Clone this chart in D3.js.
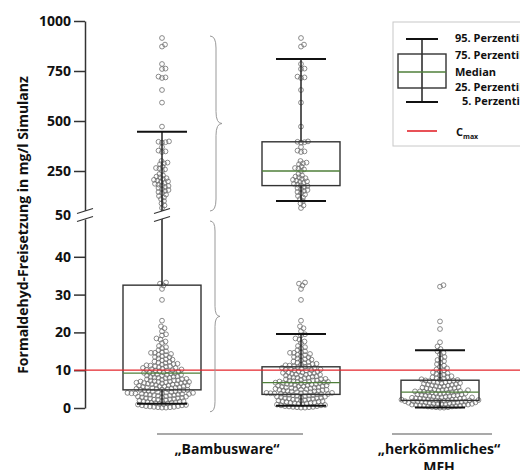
<!DOCTYPE html>
<html>
<head>
<meta charset="utf-8">
<script src="https://cdn.jsdelivr.net/npm/d3@7"></script>
<style>
  body { margin: 0; background: #fff; }
  text { font-family: "Open Sans", Lato, sans-serif; font-weight: bold; fill: #111; }
</style>
</head>
<body>
<svg id="chart" width="520" height="470"></svg>
<script>
const columns = ["alle", "getrennt", "mfh"];
const upperTicks = [250, 500, 750, 1000];
const lowerTicks = [0, 10, 20, 30, 40];
const breakValue = 50;
const cmax = 10;

// Perzentile: 5., 25., Median, 75., 95.
const statsAll = [1.1, 4.8, 9.2, 32.5, 446];
const statsHigh = [100, 177, 250, 396, 810];
const statsLow = [0.6, 3.6, 6.7, 10.9, 19.6];
const statsMfh = [0.1, 2.0, 4.2, 7.35, 15.3];

const legendLabels = ["95. Perzentil", "75. Perzentil", "Median", "25. Perzentil", "5. Perzentil"];

// Einzelwerte Bambusware, oberhalb 50 mg/l
const bambusHigh = [915, 882, 872, 785, 762, 760, 722, 718, 715, 655, 592, 472,
  398, 396, 394, 392, 370, 352, 348, 345, 300, 292, 288, 284, 272, 265, 262, 258,
  250, 235, 228, 222, 218, 214, 210, 206, 202, 198, 195, 190, 186, 182, 178, 175,
  170, 165, 160, 155, 150, 145, 140, 132, 125, 118, 110, 100, 88, 78, 65];

// Einzelwerte Bambusware, unterhalb 50 mg/l
const bambusLow = [33.2, 32.9, 32.4, 31.5, 28.6, 23.1, 21.6, 21.1, 20.3,
  19.5, 19.2, 18.4, 18.1, 17.6, 17.2, 16.4, 16.1, 15.8, 15.3, 15.0, 14.8, 14.6, 14.6,
  14.3, 14.1, 14.0, 13.7, 13.5, 13.4, 13.1, 12.9, 12.8, 12.6, 12.3, 12.2, 12.0, 11.9,
  11.7, 11.6, 11.5, 11.3, 11.2, 11.1, 11.0, 10.9,
  10.8, 10.6, 10.6, 10.4, 10.3, 10.1, 10.0, 9.9, 9.9, 9.7, 9.6, 9.4, 9.4, 9.3, 9.1,
  9.0, 8.9, 8.8, 8.8, 8.6, 8.5, 8.4, 8.3, 8.1, 8.0, 8.0, 7.9, 7.7, 7.6, 7.6, 7.5, 7.3,
  7.3, 7.2, 7.1, 7.0, 7.0, 6.9, 6.9, 6.8, 6.8, 6.7, 10.2, 9.2, 8.2,
  6.6, 6.6, 6.5, 6.4, 6.3, 6.3, 6.2, 6.1, 6.0, 6.0, 5.9, 5.8, 5.7, 5.7, 5.6, 5.5, 5.4,
  5.4, 5.3, 5.2, 5.1, 5.1, 5.0, 4.9, 4.8, 4.8, 4.7, 4.6, 4.5, 4.5, 4.4, 4.3, 4.2, 4.2,
  4.1, 4.0, 4.0, 3.9, 3.9, 3.8, 3.8, 3.7, 3.7, 3.6, 3.6,
  3.5, 3.4, 3.4, 3.3, 3.2, 3.1, 3.0, 3.0, 2.9, 2.8, 2.7, 2.6, 2.6, 2.5, 2.4, 2.3, 2.2,
  2.2, 2.1, 2.0, 1.9, 1.8, 1.8, 1.7, 1.6, 1.5, 1.4, 1.4, 1.3, 1.2, 1.1, 1.0, 0.9, 0.8,
  0.7, 0.7, 0.5, 0.5, 0.4, 0.3, 0.3, 0.2, 0.2, 0.1, 0.1];

// Einzelwerte herkoemmliches MFH
const mfhValues = [32.5, 32.1, 22.9, 20.9, 17.4, 16.3, 15.6,
  15.0, 14.6, 14.2, 13.5, 13.1, 12.7, 12.4, 12.0, 11.6, 11.2, 10.9, 10.5, 10.2, 9.9,
  9.7, 9.4, 9.2, 9.0, 8.8, 8.6, 8.4, 8.2, 8.1, 7.9, 7.8, 7.6, 7.5, 7.4,
  7.3, 7.2, 7.1, 7.0, 6.9, 6.8, 6.7, 6.6, 6.5, 6.4, 6.3, 6.2, 6.1, 6.0, 5.9, 5.8, 5.7,
  5.6, 5.5, 5.4, 5.3, 5.2, 5.1, 5.0, 4.9, 4.9, 4.8, 4.7, 4.6, 4.5, 4.4, 4.4, 4.3, 4.3, 4.2,
  4.1, 4.1, 4.0, 3.9, 3.9, 3.8, 3.7, 3.6, 3.6, 3.5, 3.4, 3.3, 3.3, 3.2, 3.1, 3.0, 3.0,
  2.9, 2.8, 2.8, 2.7, 2.6, 2.6, 2.5, 2.5, 2.4, 2.3, 2.3, 2.2, 2.2, 2.1, 2.1, 2.1, 2.0, 2.0,
  1.9, 1.9, 1.8, 1.8, 1.7, 1.7, 1.6, 1.6, 1.5, 1.5, 1.4, 1.4, 1.3, 1.3, 1.2, 1.2, 1.1,
  1.1, 1.0, 1.0, 0.9, 0.9, 0.8, 0.8, 0.7, 0.6, 0.6, 0.5, 0.4, 0.4, 0.3, 0.2, 0.2, 0.1, 0.1];

const svg = d3.select("#chart");
const axisX = 85;
const boxW = 78, capW = 50;
const medianColor = "#4f7f3a";
const redColor = "#e3262d";

const x = d3.scalePoint().domain(columns).range([162, 440]);
const yHigh = d3.scaleLinear().domain([breakValue, 1000]).range([211, 21]);
const yLow = d3.scaleLinear().domain([0, breakValue]).range([408, 219]);
const yAny = v => v > breakValue ? yHigh(v) : yLow(v);
const yBreak = (yHigh(breakValue) + yLow(breakValue)) / 2;

// simple beeswarm: push each point sideways until it does not collide
function swarm(values, yFn, dist) {
  const placed = [];
  values.map(v => ({v, y: yFn(v)}))
    .sort((a, b) => b.y - a.y)
    .forEach(p => {
      let dx = 0;
      for (let k = 0; k < 400; k++) {
        dx = (k % 2 ? 1 : -1) * Math.ceil(k / 2) * 0.5;
        const hit = placed.some(q => (q.dx - dx) ** 2 + (q.y - p.y) ** 2 < dist * dist);
        if (!hit) break;
      }
      p.dx = dx;
      placed.push(p);
    });
  return placed;
}

const dotsHigh = swarm(bambusHigh, yHigh, 3.4);
const dotsLow = swarm(bambusLow, yLow, 3.7);
const dotsMfh = swarm(mfhValues, yLow, 3.7);

function drawDots(dots, cx) {
  svg.append("g").selectAll("circle")
    .data(dots)
    .join("circle")
    .attr("cx", d => cx + d.dx)
    .attr("cy", d => d.y)
    .attr("r", 2.4)
    .attr("fill", "none")
    .attr("stroke", "#6e6e6e")
    .attr("stroke-width", 0.8);
}

drawDots(dotsHigh, x("alle"));
drawDots(dotsLow, x("alle"));
drawDots(dotsHigh, x("getrennt"));
drawDots(dotsLow, x("getrennt"));
drawDots(dotsMfh, x("mfh"));

function drawBox(cx, s, yFn) {
  const g = svg.append("g");
  g.append("line").attr("x1", cx).attr("x2", cx)
    .attr("y1", yFn(s[3])).attr("y2", yFn(s[4]))
    .attr("stroke", "#222").attr("stroke-width", 1.5);
  g.append("line").attr("x1", cx).attr("x2", cx)
    .attr("y1", yFn(s[0])).attr("y2", yFn(s[1]))
    .attr("stroke", "#222").attr("stroke-width", 1.5);
  g.append("rect")
    .attr("x", cx - boxW / 2).attr("width", boxW)
    .attr("y", yFn(s[3])).attr("height", yFn(s[1]) - yFn(s[3]))
    .attr("fill", "none").attr("stroke", "#333").attr("stroke-width", 1.4);
  g.append("line").attr("x1", cx - boxW / 2).attr("x2", cx + boxW / 2)
    .attr("y1", yFn(s[2])).attr("y2", yFn(s[2]))
    .attr("stroke", medianColor).attr("stroke-width", 1.3);
  [s[0], s[4]].forEach(v => {
    g.append("line").attr("x1", cx - capW / 2).attr("x2", cx + capW / 2)
      .attr("y1", yFn(v)).attr("y2", yFn(v))
      .attr("stroke", "#111").attr("stroke-width", 2);
  });
}

drawBox(x("alle"), statsAll, yAny);
drawBox(x("getrennt"), statsHigh, yHigh);
drawBox(x("getrennt"), statsLow, yLow);
drawBox(x("mfh"), statsMfh, yLow);

// Achsen
const upperAxis = svg.append("g")
  .attr("transform", `translate(${axisX},0)`)
  .call(d3.axisLeft(yHigh).tickValues(upperTicks).tickFormat(d3.format("d"))
    .tickSize(11).tickSizeOuter(0).tickPadding(3));
const lowerAxis = svg.append("g")
  .attr("transform", `translate(${axisX},0)`)
  .call(d3.axisLeft(yLow).tickValues(lowerTicks).tickFormat(d3.format("d"))
    .tickSize(11).tickSizeOuter(0).tickPadding(3));
[upperAxis, lowerAxis].forEach(a => {
  a.selectAll("path, line").attr("stroke", "#333").attr("stroke-width", 1.5);
  a.selectAll("text").style("font-size", "14px").attr("fill", "#111");
});

svg.append("text")
  .attr("x", axisX - 14).attr("y", yBreak).attr("dy", "0.35em")
  .attr("text-anchor", "end").style("font-size", "14px")
  .text(breakValue);

// Achsenbruch-Zeichen
function breakMark(cx) {
  const g = svg.append("g");
  const w = 8, s = 2.5, gap = 4;
  g.append("polygon")
    .attr("points", [[cx - w, yBreak - gap + s], [cx + w, yBreak - gap - s],
      [cx + w, yBreak + gap - s], [cx - w, yBreak + gap + s]].join(" "))
    .attr("fill", "#fff");
  [-gap, gap].forEach(o => {
    g.append("line")
      .attr("x1", cx - w).attr("y1", yBreak + o + s)
      .attr("x2", cx + w).attr("y2", yBreak + o - s)
      .attr("stroke", "#333").attr("stroke-width", 1.3);
  });
}
breakMark(axisX);
breakMark(x("alle"));

// Cmax
svg.append("line")
  .attr("x1", axisX - 11).attr("x2", 520)
  .attr("y1", yLow(cmax)).attr("y2", yLow(cmax))
  .attr("stroke", redColor).attr("stroke-width", 1.3);

// geschweifte Klammern
function brace(x0, y0, y1, w) {
  const m = (y0 + y1) / 2, h = w / 2;
  return `M${x0},${y0} Q${x0 + h},${y0} ${x0 + h},${y0 + 2 * h} L${x0 + h},${m - 2 * h}` +
    ` Q${x0 + h},${m} ${x0 + w},${m} Q${x0 + h},${m} ${x0 + h},${m + 2 * h}` +
    ` L${x0 + h},${y1 - 2 * h} Q${x0 + h},${y1} ${x0},${y1}`;
}
const braceX = x("alle") + 48;
svg.append("path")
  .attr("d", brace(braceX, yHigh(925), yHigh(breakValue), 12))
  .attr("fill", "none").attr("stroke", "#999").attr("stroke-width", 1);
svg.append("path")
  .attr("d", brace(braceX, yLow(breakValue) + 2, yLow(-1), 10))
  .attr("fill", "none").attr("stroke", "#999").attr("stroke-width", 1);

// Gruppenbeschriftung
const groups = [
  {x1: x("alle") - 5, x2: x("getrennt") + 2, lines: ["„Bambusware“"]},
  {x1: x("mfh") - 48, x2: x("mfh") + 52, lines: ["„herkömmliches“", "MFH"]}
];
groups.forEach(gr => {
  svg.append("line")
    .attr("x1", gr.x1).attr("x2", gr.x2).attr("y1", 434).attr("y2", 434)
    .attr("stroke", "#555").attr("stroke-width", 1.2);
  gr.lines.forEach((t, i) => {
    svg.append("text")
      .attr("x", (gr.x1 + gr.x2) / 2 - 3).attr("y", 454 + i * 18)
      .attr("text-anchor", "middle").style("font-size", "14px")
      .text(t);
  });
});

svg.append("text")
  .attr("transform", `translate(28,225) rotate(-90)`)
  .attr("text-anchor", "middle").style("font-size", "14px")
  .text("Formaldehyd-Freisetzung in mg/l Simulanz");

// Legende
const lg = svg.append("g");
lg.append("rect").attr("x", 393).attr("y", 22).attr("width", 140).attr("height", 124)
  .attr("fill", "#fff").attr("stroke", "#c8c8c8").attr("stroke-width", 1);
const lx = 422, lyTop = 39, lyQ3 = 54, lyMed = 72, lyQ1 = 88, lyBot = 102;
lg.append("line").attr("x1", lx).attr("x2", lx).attr("y1", lyTop).attr("y2", lyBot)
  .attr("stroke", "#222").attr("stroke-width", 1.5);
lg.append("rect").attr("x", lx - 24).attr("y", lyQ3).attr("width", 48).attr("height", lyQ1 - lyQ3)
  .attr("fill", "none").attr("stroke", "#333").attr("stroke-width", 1.4);
lg.append("line").attr("x1", lx - 24).attr("x2", lx + 24).attr("y1", lyMed).attr("y2", lyMed)
  .attr("stroke", medianColor).attr("stroke-width", 1.3);
[lyTop, lyBot].forEach(yy => {
  lg.append("line").attr("x1", lx - 16).attr("x2", lx + 16).attr("y1", yy).attr("y2", yy)
    .attr("stroke", "#111").attr("stroke-width", 2);
});
const legendY = [38, 55, 72, 87.5, 101.5];
legendLabels.forEach((t, i) => {
  lg.append("text")
    .attr("x", i === 4 ? 462 : 455).attr("y", legendY[i]).attr("dy", "0.35em")
    .style("font-size", "11px")
    .attr("fill", i === 2 ? medianColor : "#111")
    .text(t);
});
lg.append("line").attr("x1", 407).attr("x2", 437).attr("y1", 131).attr("y2", 131)
  .attr("stroke", redColor).attr("stroke-width", 1.6);
const ct = lg.append("text").attr("x", 456).attr("y", 132).attr("dy", "0.35em")
  .style("font-size", "11px");
ct.append("tspan").text("C");
ct.append("tspan").attr("dy", "3").style("font-size", "7px").text("max");
</script>
</body>
</html>
